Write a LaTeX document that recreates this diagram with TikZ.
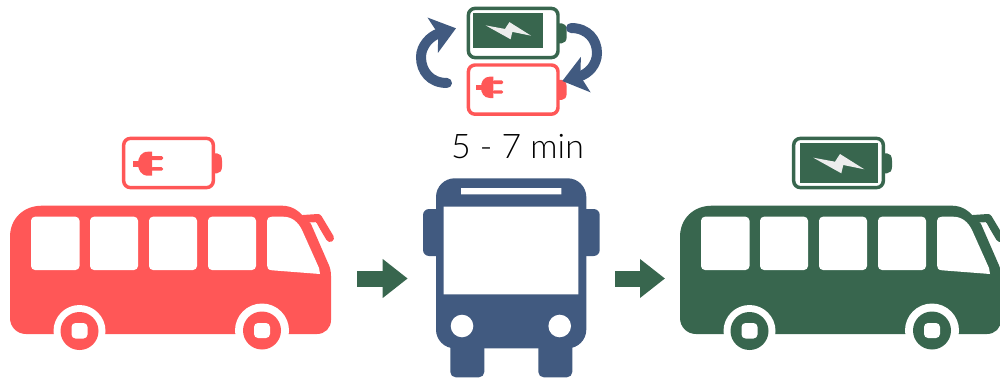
\documentclass[tikz,border=0pt]{standalone}
\usepackage{fontspec}
\usetikzlibrary{arrows.meta}
\newfontfamily\timefont{Lato Light}
\definecolor{busred}{HTML}{FF5757}
\definecolor{busgreen}{HTML}{38664E}
\definecolor{busblue}{HTML}{415A80}
\begin{document}
\begin{tikzpicture}[
  x=.75pt,y=-.75pt,
  >={Triangle[length=18.75pt,width=28pt]},
  flowarrow/.style={->,draw=busgreen,line width=12pt},
  cyclearrow/.style={-{Stealth[length=18pt,width=27pt,inset=4pt]},draw=busblue,line width=7.5pt,line cap=round},
  timelabel/.style={font=\timefont\fontsize{25.4}{27}\selectfont,inner sep=0pt},
  pics/batteryshell/.style={code={
    \draw[#1,line width=2.6pt,rounded corners=5pt] (1.7,1.7) rectangle (91.3,50.9);
    \fill[#1] (92,16.6) -- (95,16.6) .. controls (98,16.6) and (100,19) .. (100,24) -- (100,30) .. controls (100,34) and (98,36.6) .. (95,36.6) -- (92,36.6) -- cycle;
  }},
  pics/batteryempty/.style={code={
    \pic {batteryshell=busred};
    \fill[busred] (11,24.3) rectangle (17,30);
    \fill[busred] (30,15) -- (26,15) .. controls (19,15) and (16,21) .. (16,27) .. controls (16,33) and (19,39) .. (26,39) -- (30,39) -- cycle;
    \fill[busred,rounded corners=1pt] (29,19.3) rectangle (41,23.3) (29,30.5) rectangle (41,34);
  }},
  pics/batteryfull/.style={code={
    \pic {batteryshell=busgreen};
    \fill[busgreen] (7.5,6.6) rectangle (86,46.6);
    \fill[white!93!black] (21.3,21) -- (43,25) -- (48,17.3) -- (72.3,32.6) -- (51.3,28.3) -- (49.3,36.6) -- cycle;
  }},
  pics/sidebus/.style={code={
    \draw[#1,line width=6pt,line cap=round,line join=round] (303,219) -- (318,218) -- (330,238);
    \fill[white] (304,222) -- (316.7,223.3) -- (331,252) -- (322,252) -- cycle;
    \fill[#1] (10,237) .. controls (10,218) and (24,205.7) .. (42,205.7) -- (282,205.7) .. controls (291,205.7) and (298,210) .. (303,216) -- (311,224) -- (328,263) .. controls (330,267) and (331,271) .. (331,276) -- (331,320) .. controls (331,328) and (325,334) .. (317,334) -- (26,334) .. controls (17,334) and (10,327) .. (10,318) -- cycle;
    \fill[white,rounded corners=3pt] (31,216.7) rectangle (79.5,270) (90,216.7) rectangle (138,270) (149,216.7) rectangle (197,270) (208,216.7) rectangle (256,270);
    \fill[white] (272,216.7) -- (283,216.7) .. controls (292,216.7) and (298,222) .. (302,230) -- (319,268) -- (320,274) -- (272,270.3) .. controls (268,270) and (267,268) .. (267,265) -- (267,221) .. controls (267,218) and (269,216.7) .. (272,216.7) -- cycle;
    \fill[white] (79.5,331) circle[radius=26] (262,330.5) circle[radius=27];
    \fill[#1] (79.5,331) circle[radius=19] (262,330.5) circle[radius=19];
    \fill[white,rounded corners=3pt] (71.5,323) rectangle (87.5,338.5) (254,323) rectangle (270,338);
  }}]
\clip (0,0) rectangle (1000,378);
\pic at (0,0) {sidebus=busred};
\pic at (122,136.7) {batteryempty};
\pic at (670,0) {sidebus=busgreen};
\pic at (792,136.7) {batteryfull};
\pic[scale=.89] at (466.7,6.7) {batteryfull};
\pic[scale=.89] at (466.7,63.3) {batteryempty};
\node[timelabel] (chargetime) at (517.5,147) {5 - 7 min};
\fill[busblue,rounded corners=4.5pt] (423,209) rectangle (445,256) (578,209) rectangle (599.7,256);
\fill[busblue,rounded corners=4pt] (450.3,330) rectangle (484.3,377.3) (538.3,330) rectangle (572.3,377.3);
\fill[busblue,rounded corners=14pt] (436,178.3) rectangle (586.3,348.3);
\fill[white] (443.7,206.7) rectangle (578.3,294.3) (461,188) rectangle (561.3,194.3);
\fill[white] (462,326) circle[radius=11.3] (559.7,326) circle[radius=11.3];
\coordinate (redout) at (357.3,278.5);
\coordinate (bluein) at (407.7,278.5);
\coordinate (blueout) at (615,278.5);
\coordinate (greenin) at (665,278.5);
\draw[flowarrow] (redout) -- (bluein);
\draw[flowarrow] (blueout) -- (greenin);
\coordinate (lefttail) at (447,83);
\coordinate (lefttip) at (456,28.3);
\coordinate (righttail) at (571,28);
\coordinate (righttip) at (562.3,81);
\draw[cyclearrow] (lefttail) .. controls (430,83) and (421,71) .. (421,57) .. controls (421,46) and (430,36) .. (lefttip);
\draw[cyclearrow] (righttail) .. controls (588,28) and (597,40) .. (597,53) .. controls (597,65) and (588,74) .. (righttip);
\end{tikzpicture}
\end{document}
